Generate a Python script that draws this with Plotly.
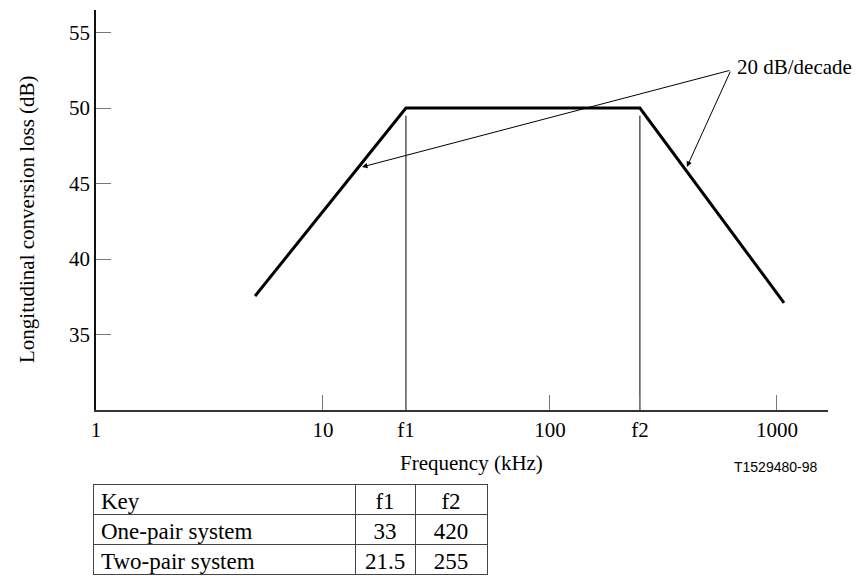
import math
import plotly.graph_objects as go

# ---- data ----
freq_khz = [5.02, 23.2, 249, 1074]          # corner points of the mask
loss_db = [37.55, 50.0, 50.0, 37.1]
f1_pos = 23.2
f2_pos = 249
marker_top_db = 49.5
x_tickvals = [1, 10, f1_pos, 100, f2_pos, 1000]
x_ticktext = ["1", "10", "f1", "100", "f2", "1000"]
y_tickvals = [35, 40, 45, 50, 55]

table_header = ["Key", "f1", "f2"]
table_systems = ["One-pair system", "Two-pair system"]
table_f1 = ["33", "21.5"]
table_f2 = ["420", "255"]

OFF = 8                      # page body margin
W, H = 867 - OFF, 579 - OFF  # figure size
SERIF = "Liberation Serif"
SANS = "Liberation Sans"


def px(xp):   # page x -> paper fraction
    return (xp - OFF) / W


def py(yp):   # page y -> paper fraction
    return (H - (yp - OFF)) / H


fig = go.Figure()

fig.add_trace(go.Scatter(x=freq_khz, y=loss_db, mode="lines",
                         line=dict(color="black", width=3), showlegend=False,
                         hoverinfo="skip"))
for fv in (f1_pos, f2_pos):
    fig.add_trace(go.Scatter(x=[fv, fv], y=[30, marker_top_db], mode="lines",
                             line=dict(color="black", width=1), showlegend=False,
                             hoverinfo="skip"))

fig.add_trace(go.Table(
    domain=dict(x=[px(93), px(487)], y=[max(0.0, py(575)), py(484)]),
    columnwidth=[262, 60, 72],
    header=dict(values=table_header, align=["left", "center", "center"],
                fill_color="white", line=dict(color="#444", width=1),
                font=dict(family=SERIF, size=23, color="black"), height=30),
    cells=dict(values=[table_systems, table_f1, table_f2],
               align=["left", "center", "center"],
               fill_color="white", line=dict(color="#444", width=1),
               font=dict(family=SERIF, size=23, color="black"), height=30),
))

fig.update_layout(
    width=W, height=H, template="none",
    margin=dict(l=0, r=0, t=0, b=0),
    paper_bgcolor="white", plot_bgcolor="white",
    showlegend=False,
    font=dict(family=SERIF, size=21, color="black"),
    xaxis=dict(type="log", range=[0, math.log10(1678)],
               domain=[px(96), px(828)],
               tickvals=x_tickvals, ticktext=x_ticktext,
               ticks="inside", ticklen=15, tickcolor="#777", tickwidth=1,
               showline=True, linecolor="#333", linewidth=1.5,
               showgrid=False, zeroline=False,
               tickfont=dict(family=SERIF, size=21, color="black")),
    yaxis=dict(range=[30, 56.5], domain=[py(410), py(10)],
               tickvals=y_tickvals,
               ticks="inside", ticklen=15, tickcolor="#777", tickwidth=1,
               showline=True, linecolor="#111", linewidth=1.5,
               showgrid=False, zeroline=False,
               tickfont=dict(family=SERIF, size=21, color="black")),
)

ann = []
ann.append(dict(text="Frequency (kHz)", xref="paper", yref="paper",
                x=px(398), y=py(463), xanchor="left", yanchor="middle",
                showarrow=False, font=dict(family=SERIF, size=21, color="black")))
ann.append(dict(text="T1529480-98", xref="paper", yref="paper",
                x=px(820), y=py(467), xanchor="right", yanchor="middle",
                showarrow=False, font=dict(family=SANS, size=14, color="black")))
ann.append(dict(text="Longitudinal conversion loss (dB)", xref="paper", yref="paper",
                x=px(27), y=py(219), xanchor="center", yanchor="middle",
                textangle=-90, showarrow=False,
                font=dict(family=SERIF, size=21, color="black")))
ann.append(dict(text="20 dB/decade", xref="paper", yref="paper",
                x=px(735), y=py(67), xanchor="left", yanchor="middle",
                showarrow=False, font=dict(family=SERIF, size=21, color="black")))
# two arrows from the label to the sloped segments
tail_x, tail_y = math.log10(627), 52.52
for tip_x, tip_y in ((14.85, 46.1), (401, 46.1)):
    ann.append(dict(text="", x=math.log10(tip_x), y=tip_y, xref="x", yref="y",
                    ax=tail_x, ay=tail_y, axref="x", ayref="y",
                    showarrow=True, arrowhead=2, arrowsize=1.1, arrowwidth=1,
                    arrowcolor="black", standoff=0, startstandoff=0))
fig.update_layout(annotations=ann)

fig.write_html("out.html")
